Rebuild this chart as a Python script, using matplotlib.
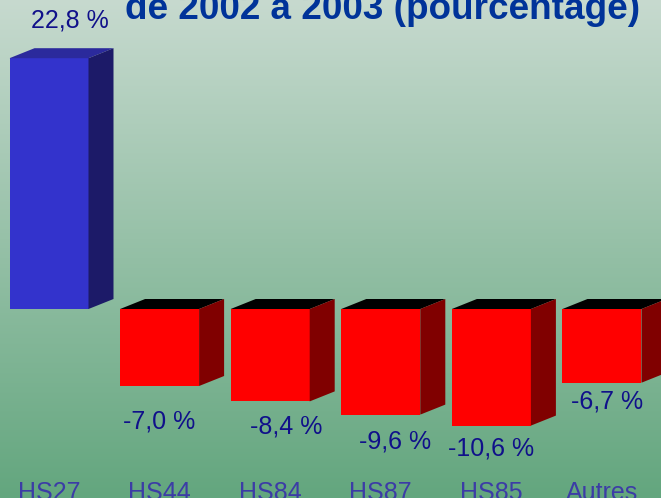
import numpy as np
import matplotlib
matplotlib.use("Agg")
import matplotlib.pyplot as plt
from matplotlib.patches import Polygon

# Data
categories = ["HS27", "HS44", "HS84", "HS87", "HS85", "Autres"]
values = [22.8, -7.0, -8.4, -9.6, -10.6, -6.7]
title = "de 2002 à 2003 (pourcentage)"

# label offsets in pixels from the bar end (layout only)
label_offsets = [(21, 38), (0, -36), (16, -25), (14, -27), (0, -23), (5, -19)]

plt.rcParams['font.family'] = ['Liberation Sans', 'DejaVu Sans']

W, H = 661, 498
fig = plt.figure(figsize=(W / 100, H / 100), dpi=100)
ax = fig.add_axes([0, 0, 1, 1])
ax.axis("off")

px_unit = 11.0      # pixels per percent
base_px = 309       # baseline from top
step_px = 110.6     # bar spacing
first_px = 49       # first bar center

ylo, yhi = -(H - base_px) / px_unit, base_px / px_unit
xlo, xhi = -first_px / step_px, (W - first_px) / step_px
ax.set_xlim(xlo, xhi)
ax.set_ylim(ylo, yhi)

# background gradient
top_c = np.array([199, 218, 207]) / 255
bot_c = np.array([99, 166, 126]) / 255
t = np.linspace(0, 1, 256)[:, None, None]
grad = top_c * (1 - t) + bot_c * t
ax.imshow(grad, extent=[xlo, xhi, ylo, yhi], aspect="auto", zorder=0)

w = 79 / step_px
dx = 25 / step_px
dy = 10 / px_unit

for i, v in enumerate(values):
    if v >= 0:
        front, top, side = "#3333cc", "#2b2a9c", "#1c1a68"
    else:
        front, top, side = "#ff0000", "#000000", "#800000"
    x0, x1 = i - w / 2, i + w / 2
    ax.bar(i, v, w, color=front, zorder=3)
    yt = max(v, 0)
    ax.add_patch(Polygon([(x0, yt), (x1, yt), (x1 + dx, yt + dy), (x0 + dx, yt + dy)],
                         closed=True, facecolor=top, edgecolor="none", zorder=3))
    ax.add_patch(Polygon([(x1, 0), (x1, v), (x1 + dx, v + dy), (x1 + dx, dy)],
                         closed=True, facecolor=side, edgecolor="none", zorder=3))
    lbl = f"{v:.1f}".replace(".", ",") + " %"
    ox, oy = label_offsets[i]
    ax.annotate(lbl, xy=(i, v), xytext=(ox, oy), textcoords="offset pixels",
                ha="center", va="center", fontsize=18, color="#10108a", zorder=4)
    ax.text(i, (base_px - 500) / px_unit, categories[i], ha="center", va="baseline",
            fontsize=18, color="#3c3ca6", zorder=4)

fig.text(382.5 / W, 1 - 19 / H, title, ha="center", va="baseline",
         fontsize=26.6, fontweight="bold", color="#003399")

fig.savefig("out.png", dpi=100)
